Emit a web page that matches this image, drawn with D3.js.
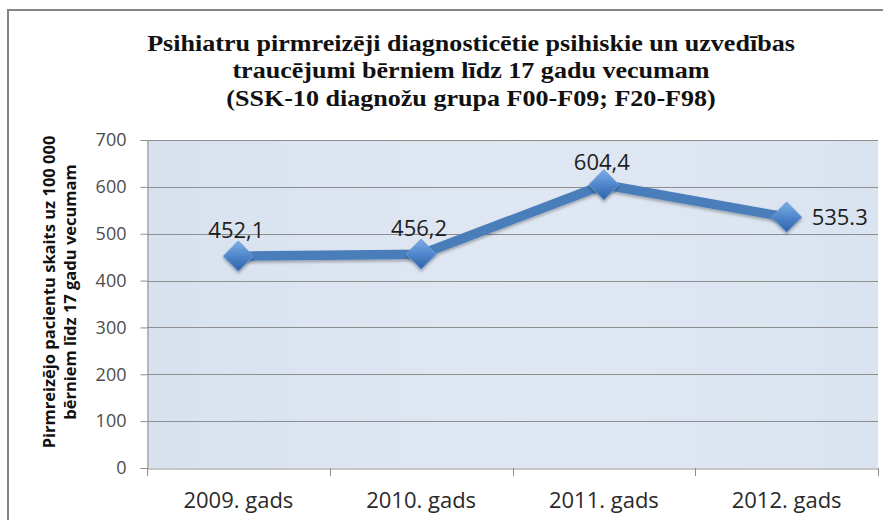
<!DOCTYPE html>
<html><head><meta charset="utf-8">
<script src="https://cdn.jsdelivr.net/npm/d3@7/dist/d3.min.js"></script>
<style>body{margin:0;background:#fff}svg{display:block}</style>
</head><body>
<svg id="c" width="883" height="520"></svg>
<script>
const categories = ["2009. gads","2010. gads","2011. gads","2012. gads"];
const values = [452.1, 456.2, 604.4, 535.3];
const valueLabels = ["452,1","456,2","604,4","535.3"];
const yTicks = [0,100,200,300,400,500,600,700];
const titleLines = ["Psihiatru pirmreizēji diagnosticētie psihiskie un uzvedības","traucējumi bērniem līdz 17 gadu vecumam","(SSK-10 diagnožu grupa F00-F09; F20-F98)"];
const yTitleLines = ["Pirmreizējo pacientu skaits uz 100 000","bērniem līdz 17 gadu vecumam"];

const svg = d3.select("#c");
const W=883,H=520;
const m={left:147,right:878,top:140,bottom:468};

const defs = svg.append("defs");
const bg = defs.append("linearGradient").attr("id","bg").attr("x1",0).attr("x2",1).attr("y1",0).attr("y2",0);
bg.append("stop").attr("offset","0%").attr("stop-color","#d8e2ef");
bg.append("stop").attr("offset","50%").attr("stop-color","#dfe7f2");
bg.append("stop").attr("offset","100%").attr("stop-color","#dae4f0");
const mg = defs.append("linearGradient").attr("id","mk").attr("x1",0).attr("x2",0).attr("y1",0).attr("y2",1);
mg.append("stop").attr("offset","0%").attr("stop-color","#7eaee6");
mg.append("stop").attr("offset","50%").attr("stop-color","#4f86cc");
mg.append("stop").attr("offset","100%").attr("stop-color","#2f62a6");
const sh = defs.append("filter").attr("id","sh").attr("x","-20%").attr("y","-20%").attr("width","140%").attr("height","160%");
sh.append("feDropShadow").attr("dx",0).attr("dy",2).attr("stdDeviation",1.5).attr("flood-color","#000").attr("flood-opacity",0.3);

svg.append("rect").attr("width",W).attr("height",H).attr("fill","#fff");
svg.append("rect").attr("x",8).attr("y",10).attr("width",900).attr("height",540)
  .attr("fill","#fff").attr("stroke","#858585").attr("stroke-width",2);

// title
const tg = svg.append("g");
const tText = tg.selectAll("text").data(titleLines).join("text")
  .attr("x",0).attr("y",(d,i)=>51+i*27.5)
  .attr("text-anchor","middle")
  .attr("font-family","'Liberation Serif','Times New Roman',serif")
  .attr("font-weight","bold").attr("font-size",23.5).attr("fill","#111")
  .text(d=>d);
const w0 = tText.node().getComputedTextLength();
const s = 648/w0;
tg.attr("transform",`translate(471,0) scale(${s},1)`);

const x = d3.scaleBand().domain(categories).range([m.left,m.right]);
const y = d3.scaleLinear().domain([0,700]).range([m.bottom,m.top]);

svg.append("rect").attr("x",m.left).attr("y",m.top).attr("width",m.right-m.left).attr("height",m.bottom-m.top).attr("fill","url(#bg)");

// gridlines
svg.append("g").selectAll("line").data(yTicks.filter(d=>d>0)).join("line")
  .attr("x1",m.left).attr("x2",m.right).attr("y1",d=>Math.round(y(d))+0.5).attr("y2",d=>Math.round(y(d))+0.5)
  .attr("stroke","#8e8e8e").attr("stroke-width",1);

// y axis
const ya = svg.append("g").attr("transform",`translate(${m.left+0.5},0)`)
  .call(d3.axisLeft(y).tickValues(yTicks).tickSize(7).tickPadding(14).tickFormat(d3.format("d")));
ya.select(".domain").attr("stroke","#8e8e8e");
ya.selectAll(".tick line").attr("stroke","#8e8e8e");
ya.selectAll("text").attr("font-family","'Open Sans',sans-serif").attr("font-size",18).attr("fill","#4d4d4d");

// x axis
const xa = svg.append("g").attr("transform",`translate(0,${m.bottom+0.5})`)
  .call(d3.axisBottom(x).tickSize(0).tickPadding(24));
xa.select(".domain").attr("stroke","#8e8e8e");
xa.selectAll("text").attr("font-family","'Open Sans',sans-serif").attr("font-size",22).attr("fill","#2a2a2a");
const bounds = categories.map(c=>x(c)).concat([m.right]);
svg.append("g").selectAll("line").data(bounds).join("line")
  .attr("x1",d=>Math.round(d)+0.5).attr("x2",d=>Math.round(d)+0.5)
  .attr("y1",m.bottom).attr("y2",m.bottom+8).attr("stroke","#8e8e8e");

// y title
const yt = svg.append("g");
yt.selectAll("text").data(yTitleLines).join("text")
  .attr("transform",(d,i)=>`translate(${55+i*20.5},292) rotate(-90)`)
  .attr("text-anchor","middle")
  .attr("font-family","'Open Sans',sans-serif").attr("font-weight","bold")
  .attr("font-size",16.5).attr("fill","#111").text(d=>d);

// line
const cx = (d,i)=>x(categories[i])+x.bandwidth()/2;
const line = d3.line().x((d,i)=>cx(d,i)).y(d=>y(d));
svg.append("path").datum(values).attr("d",line).attr("fill","none")
  .attr("stroke","#4a7ebb").attr("stroke-width",9.5).attr("stroke-linejoin","round")
  .attr("filter","url(#sh)");

// markers
const sym = d3.symbol().type(d3.symbolDiamond2).size(580);
svg.append("g").selectAll("path").data(values).join("path")
  .attr("d",sym)
  .attr("transform",(d,i)=>`translate(${cx(d,i)},${y(d)})`)
  .attr("fill","url(#mk)").attr("stroke","#6b9ad6").attr("stroke-width",1)
  .attr("filter","url(#sh)");

// labels
svg.append("g").selectAll("text").data(values).join("text")
  .attr("x",(d,i)=> i===3 ? cx(d,i)+25 : cx(d,i)-2)
  .attr("y",(d,i)=> i===3 ? y(d)+8 : (i===2 ? y(d)-15 : y(d)-18))
  .attr("text-anchor",(d,i)=> i===3 ? "start" : "middle")
  .attr("font-family","'Open Sans',sans-serif").attr("font-size",22).attr("fill","#1e1e1e")
  .text((d,i)=>valueLabels[i]);
</script>
</body></html>
